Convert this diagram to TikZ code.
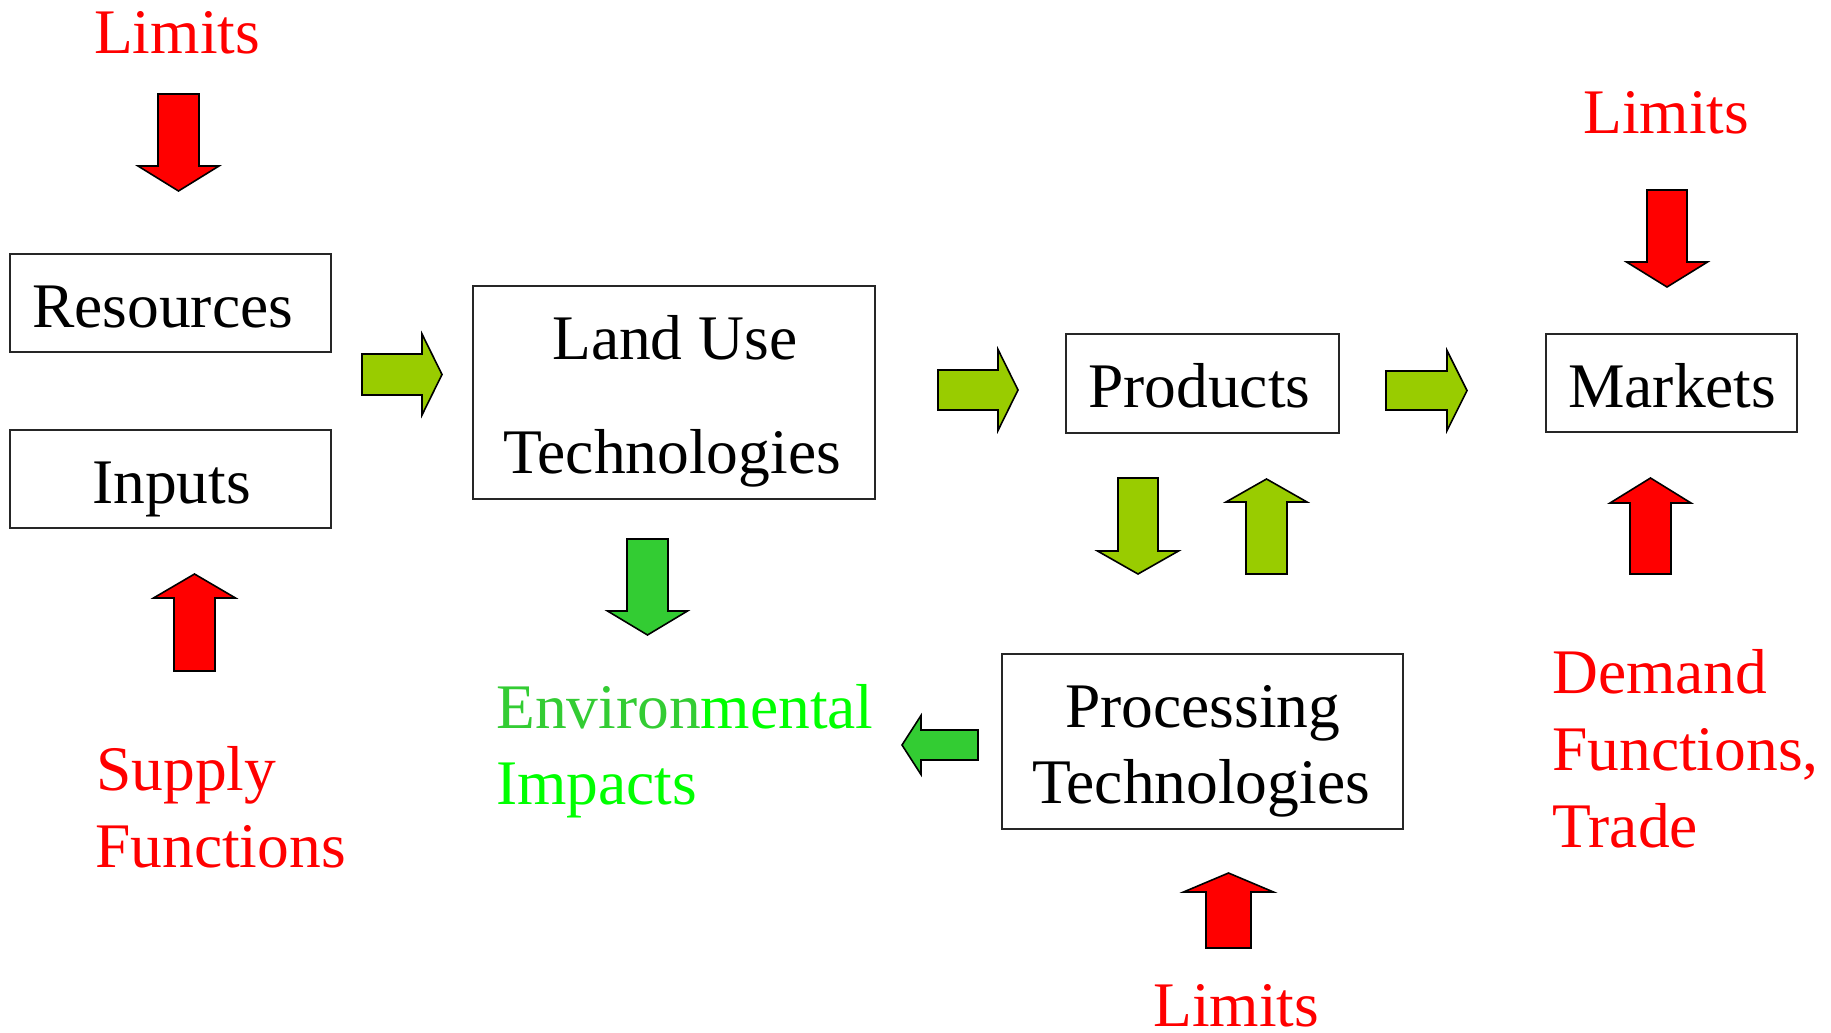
\documentclass[tikz,border=0pt]{standalone}
\usepackage{fontspec}
\setmainfont{Liberation Serif}
\definecolor{limred}{HTML}{FF0000}
\definecolor{ygreen}{HTML}{99CC00}
\definecolor{mgreen}{HTML}{33CC33}
\definecolor{bgreen}{HTML}{00FF00}
\tikzset{
  box/.style={draw=black!85, line width=2pt, inner sep=0pt},
  txt/.style={anchor=base west, inner sep=0pt, font=\fontsize{63.5}{76}\selectfont},
  redtxt/.style={txt, text=limred},
  greentxt/.style={txt, text=bgreen},
  barrow/.style={draw=black, line width=1.6pt, line join=miter},
}
% block arrow: fill, tail x, tail y, rotation, length, shaft half width, head half width, head length
\newcommand{\blockarr}[8]{%
  \draw[barrow, fill=#1, shift={(#2,#3)}, rotate=#4]
    (0,-#6) -- ({#5-#8},-#6) -- ({#5-#8},-#7) -- (#5,0) -- ({#5-#8},#7)
    -- ({#5-#8},#6) -- (0,#6) -- cycle;}
\begin{document}
\begin{tikzpicture}[x=1pt,y=-1pt]
\useasboundingbox (0,0) rectangle (1831,1033);
\fill[white] (0,0) rectangle (1831,1033);

% boxes
\node[box, minimum width=321pt, minimum height=98pt]  (res)  at (170.5,303) {};
\node[box, minimum width=321pt, minimum height=98pt]  (inp)  at (170.5,479) {};
\node[box, minimum width=402pt, minimum height=213pt] (land) at (674,392.5) {};
\node[box, minimum width=273pt, minimum height=99pt]  (prod) at (1202.5,383.5) {};
\node[box, minimum width=251pt, minimum height=98pt]  (mark) at (1671.5,383) {};
\node[box, minimum width=401pt, minimum height=175pt] (proc) at (1202.5,741.5) {};

% box texts
\node[txt] (resT)   at (32,327)   {Resources};
\node[txt] (inpT)   at (92,503)   {Inputs};
\node[txt] (landT1) at (552,359)  {Land Use};
\node[txt] (landT2) at (503,473)  {Technologies};
\node[txt] (prodT)  at (1088,407) {Products};
\node[txt] (markT)  at (1568,407) {Markets};
\node[txt] (procT1) at (1065,727) {Processing};
\node[txt] (procT2) at (1032,803) {Technologies};

% free labels
\node[redtxt] (lim1) at (94,54)    {Limits};
\node[redtxt] (lim2) at (1583,133) {Limits};
\node[redtxt] (lim3) at (1153,1026) {Limits};
\node[redtxt] (sup1) at (96,790)   {Supply};
\node[redtxt] (sup2) at (95,867)   {Functions};
\node[greentxt] (env1) at (496,728) {{\color{mgreen}Environ}mental};
\node[greentxt] (env2) at (496,804) {Impacts};
\node[redtxt] (dem1) at (1552,693) {Demand};
\node[redtxt] (dem2) at (1552,770) {Functions,};
\node[redtxt] (dem3) at (1552,847) {Trade};

% block arrows
\blockarr{limred}{178.5}{94}{-90}{97}{20.5}{40.5}{25}
\blockarr{ygreen}{362}{374.5}{0}{80}{20.5}{40.5}{20}
\blockarr{limred}{194.5}{671}{90}{97}{20.5}{41}{24}
\blockarr{ygreen}{938}{390}{0}{80}{20}{40.5}{20}
\blockarr{mgreen}{647.5}{539}{-90}{96}{20.5}{40}{24}
\blockarr{ygreen}{1386}{390.5}{0}{81}{19.5}{40}{20}
\blockarr{limred}{1667}{190}{-90}{97}{20}{40.5}{25}
\blockarr{limred}{1650.5}{574}{90}{96}{20.5}{40.5}{25}
\blockarr{ygreen}{1138}{478}{-90}{96}{20}{40.5}{23}
\blockarr{ygreen}{1266.5}{574}{90}{95}{20.5}{40.5}{23}
\blockarr{mgreen}{978}{745}{180}{76}{15}{29.5}{19}
\blockarr{limred}{1228.5}{948}{90}{75}{22.5}{45}{19}
\end{tikzpicture}
\end{document}
